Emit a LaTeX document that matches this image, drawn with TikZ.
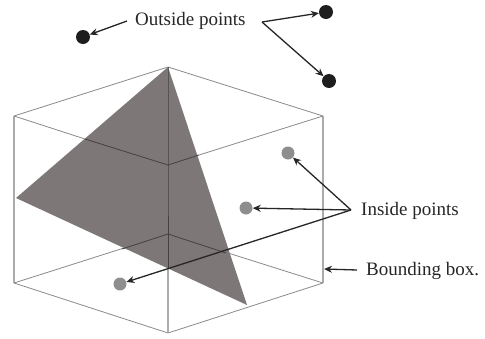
\documentclass[tikz,border=0pt]{standalone}
\usepackage{fontspec}
\setmainfont{Liberation Serif}
\usetikzlibrary{arrows.meta}
\definecolor{tri}{HTML}{7E7777}
\definecolor{dot}{HTML}{1E1E1E}
\definecolor{gdot}{HTML}{8E8E8E}
\definecolor{edge}{HTML}{8A8A8A}
\definecolor{vedge}{HTML}{ABABAB}
\tikzset{
  boxline/.style={draw=edge,line width=0.8pt},
  vline/.style={draw=vedge,line width=1.1pt},
  inner line/.style={draw=black!45!tri,line width=0.8pt},
  outpt/.style={circle,fill=dot,minimum size=14pt,inner sep=0pt},
  inpt/.style={circle,fill=gdot,minimum size=13pt,inner sep=0pt},
  lead/.style={draw=black!85,line width=1.3pt,-{Stealth[length=8pt,width=7pt]}},
  lab/.style={font=\fontsize{19}{21}\selectfont,text=black!85,inner sep=0pt,anchor=west}
}
\begin{document}
\begin{tikzpicture}[x=1pt,y=-1pt]
\useasboundingbox (0,0) rectangle (485,338);
% box corners
\coordinate (T) at (168,67);
\coordinate (L) at (14,116);
\coordinate (C) at (168,165);
\coordinate (R) at (323,116);
\coordinate (LB) at (14,283);
\coordinate (CB) at (168,333);
\coordinate (RB) at (323,283);
\coordinate (BB) at (168,234);
% triangle
\coordinate (A) at (168,67);
\coordinate (D) at (16,198);
\coordinate (E) at (247,305);
% back and lower edges, under the triangle
\draw[boxline] (LB) -- (BB) -- (RB);
\fill[tri] (A) -- (D) -- (E) -- cycle;
\draw[inner line] (122,249) -- (BB) -- (226,253);
\draw[boxline] (T) -- (L);
\draw[vline] (L) -- (LB);
\draw[boxline] (LB) -- (CB) -- (RB);
\draw[vline] (RB) -- (R);
\draw[boxline] (R) -- (T);
\draw[boxline] (L) -- (85,139);
\draw[inner line] (85,139) -- (C) -- (199,155);
\draw[boxline] (199,155) -- (R);
\draw[inner line] (T) -- (C) -- (168,268);
\draw[vline] (168,268) -- (CB);
% points
\node[outpt] (o1) at (83,37) {};
\node[outpt] (o2) at (326,12) {};
\node[outpt] (o3) at (329,81) {};
\node[inpt] (i1) at (288,153) {};
\node[inpt] (i2) at (246,208) {};
\node[inpt] (i3) at (120,284) {};
% labels
\node[lab] (outl) at (135,21) {Outside points};
\node[lab] (inl) at (361,211) {Inside points};
\node[lab] (bbl) at (366,271) {Bounding box.};
% leaders
\coordinate (ap1) at (262,22);
\coordinate (ap2) at (351,210);
\coordinate (ao) at (127,21);
\coordinate (ab) at (357,270);
\coordinate (bbt) at (324,269);
\draw[lead] (ao) -- (o1);
\draw[lead] (ap1) -- (o2);
\draw[lead] (ap1) -- (o3);
\draw[lead] (ap2) -- (i1);
\draw[lead] (ap2) -- (i2);
\draw[lead] (ap2) -- (i3);
\draw[lead] (ab) -- (bbt);
\end{tikzpicture}
\end{document}
